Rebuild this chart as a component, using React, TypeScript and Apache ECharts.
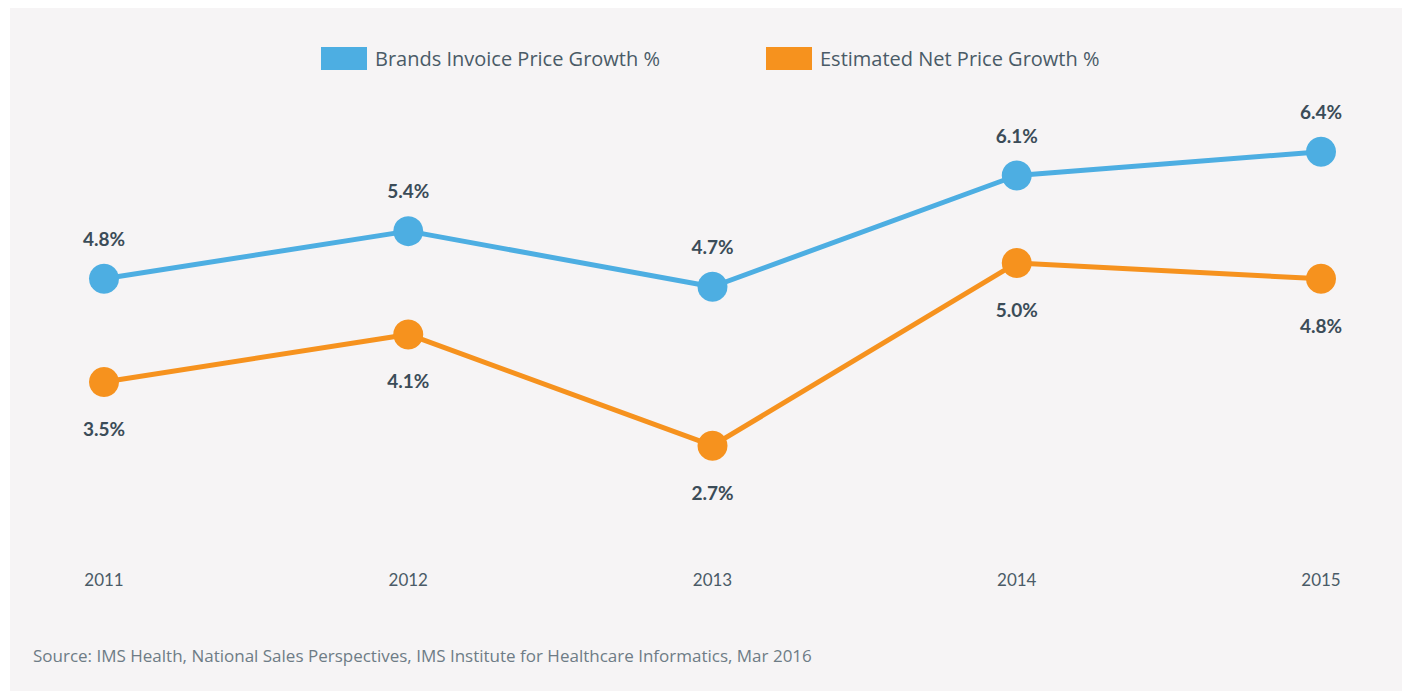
import React, { useEffect, useRef } from "react";
import * as echarts from "echarts";

const years = ["2011", "2012", "2013", "2014", "2015"];
const brandsInvoice = [4.8, 5.4, 4.7, 6.1, 6.4];
const estimatedNet = [3.5, 4.1, 2.7, 5.0, 4.8];
const seriesNames = ["Brands Invoice Price Growth %", "Estimated Net Price Growth %"];
const sourceNote =
  "Source: IMS Health, National Sales Perspectives, IMS Institute for Healthcare Informatics, Mar 2016";

const BLUE = "#4daee2";
const ORANGE = "#f6921e";
const TEXT = "#4a5b67";
const LABEL = "#3b4c58";
const FONT = "'Open Sans', Lato, sans-serif";
const FONT2 = "Lato, 'Open Sans', sans-serif";

export default function App() {
  const ref = useRef<HTMLDivElement>(null);
  useEffect(() => {
    if (!ref.current) return;
    const chart = echarts.init(ref.current, undefined, { renderer: "svg" });
    const legendBase = {
      top: 42,
      icon: "rect",
      itemWidth: 46,
      itemHeight: 23,
      itemGap: 0,
      textStyle: { color: TEXT, fontSize: 20, fontFamily: FONT, padding: [0, 0, 2, 3] },
    };
    chart.setOption({
      animation: false,
      backgroundColor: "#ffffff",
      textStyle: { fontFamily: FONT },
      graphic: [
        {
          type: "rect",
          z: -10,
          shape: { x: 10, y: 8, width: 1392, height: 683 },
          style: { fill: "#f6f4f5" },
        },
        {
          type: "text",
          left: 33,
          top: 647,
          style: { text: sourceNote, fill: "#6e7c86", font: `17px ${FONT}` },
        },
      ],
      legend: [
        { ...legendBase, data: [seriesNames[0]], left: 316 },
        { ...legendBase, data: [seriesNames[1]], left: 761 },
      ],
      grid: { left: 104, right: 1405 - 1321, top: 104, bottom: 150 },
      xAxis: {
        type: "category",
        data: years,
        boundaryGap: false,
        axisLine: { show: false },
        axisTick: { show: false },
        axisLabel: { color: TEXT, fontSize: 17, fontFamily: FONT2, margin: 30 },
      },
      yAxis: {
        type: "value",
        min: 1.5,
        max: 7,
        show: false,
        splitLine: { show: false },
      },
      series: [
        {
          name: seriesNames[0],
          type: "line",
          data: brandsInvoice,
          color: BLUE,
          symbol: "circle",
          symbolSize: 30,
          lineStyle: { width: 5, color: BLUE },
          itemStyle: { color: BLUE },
          label: {
            show: true,
            position: "top",
            distance: 16,
            color: LABEL,
            fontSize: 19,
            fontWeight: "bold",
            fontFamily: FONT2,
            formatter: (p: any) => p.value.toFixed(1) + "%",
          },
        },
        {
          name: seriesNames[1],
          type: "line",
          data: estimatedNet,
          color: ORANGE,
          symbol: "circle",
          symbolSize: 30,
          lineStyle: { width: 5, color: ORANGE },
          itemStyle: { color: ORANGE },
          label: {
            show: true,
            position: "bottom",
            distance: 22,
            color: LABEL,
            fontSize: 19,
            fontWeight: "bold",
            fontFamily: FONT2,
            formatter: (p: any) => p.value.toFixed(1) + "%",
          },
        },
      ],
    });
    return () => chart.dispose();
  }, []);
  return (
    <div
      ref={ref}
      style={{ position: "fixed", left: 0, top: 0, width: 1405, height: 691 }}
    />
  );
}
